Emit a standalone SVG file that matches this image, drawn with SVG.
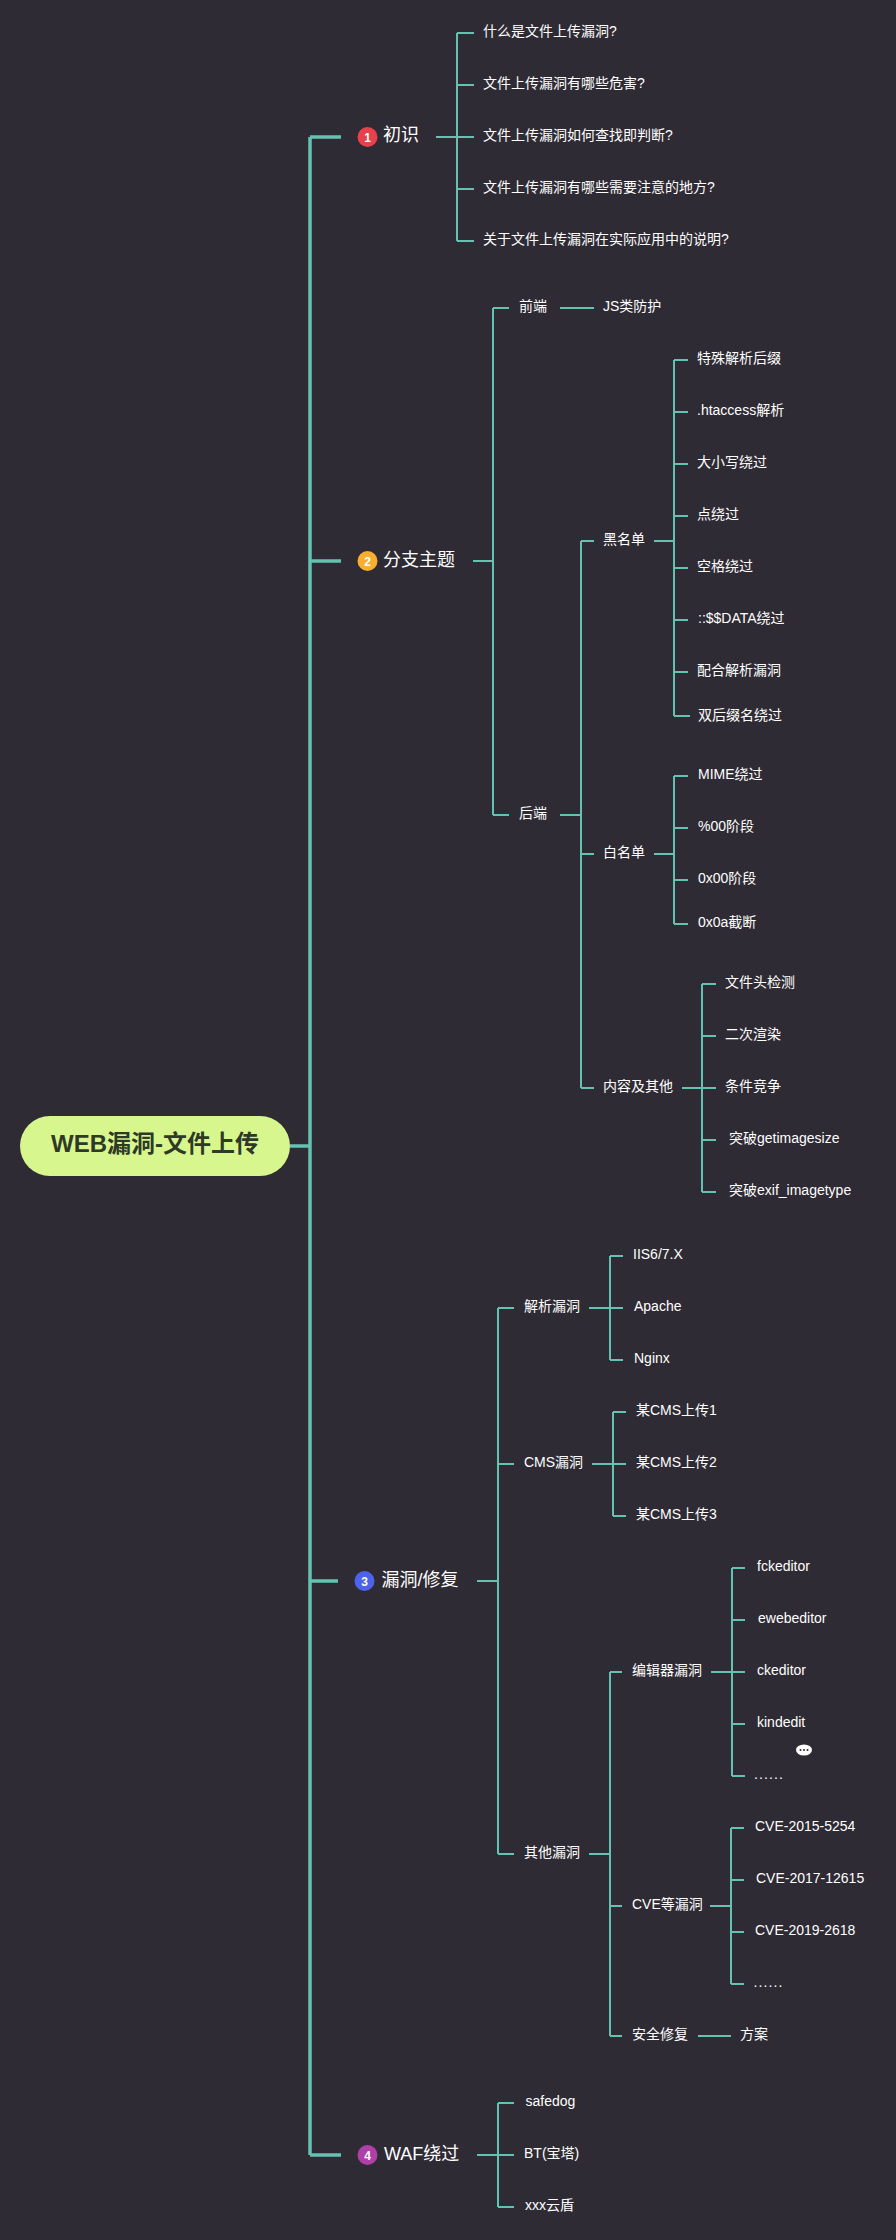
<svg xmlns="http://www.w3.org/2000/svg" width="896" height="2240" viewBox="0 0 896 2240">
<style>
text{font-family:"Liberation Sans","Noto Sans CJK SC",sans-serif;fill:#fff}
.t{font-size:14px}
.m{font-size:18px}
.r{font-size:24px;font-weight:700;fill:#2f3a26}
.b{font-size:12px;font-weight:700;text-anchor:middle}
.d{font-size:14px;letter-spacing:1.1px}
.c{fill:none;stroke:#64c2b1;stroke-width:2}
.k{fill:none;stroke:#64c2b1;stroke-width:3.5}
</style>
<rect width="896" height="2240" fill="#2f2b34"/>
<g id="connectors">
<path class="k" d="M290 1146H310M310 137V2155M341 137H310M341 561H310M338 1581H310M341 2155H310"/>
<path class="c" d="M436 137H474M457 33V241M457 33H474M457 85H474M457 189H474M457 241H474"/>
<path class="c" d="M473 561H493M493 308V815M493 308H509M493 815H509M560 308H594"/>
<path class="c" d="M560 815H581M581 541V1088M581 541H594M581 854H594M581 1088H594"/>
<path class="c" d="M654 541H674M674 360V716M674 360H688M674 412H688M674 464H688M674 516H688M674 568H688M674 620H688M674 672H688M674 716H690"/>
<path class="c" d="M654 854H674M674 776V924M674 776H688M674 828H688M674 880H688M674 924H688"/>
<path class="c" d="M682 1088H716M702 984V1192M702 984H716M702 1036H716M702 1140H716M702 1192H716"/>
<path class="c" d="M477 1581H498M498 1308V1854M498 1308H514M498 1464H514M498 1854H514"/>
<path class="c" d="M589 1308H623M610 1256V1360M610 1256H623M610 1360H623"/>
<path class="c" d="M592 1464H626M613 1412V1516M613 1412H626M613 1516H626"/>
<path class="c" d="M589 1854H610M610 1672V2036M610 1672H622M610 1906H622M610 2036H622"/>
<path class="c" d="M711 1672H745M732 1568V1776M732 1568H745M732 1620H745M732 1724H745M732 1776H745"/>
<path class="c" d="M710 1906H731M731 1828V1984M731 1828H744M731 1880H744M731 1932H744M731 1984H744"/>
<path class="c" d="M698 2036H731"/>
<path class="c" d="M477 2155H514M498 2103V2207M498 2103H514M498 2207H514"/>
</g>
<g id="root"><rect x="20" y="1116" width="270" height="60" rx="30" fill="#d7f78e"/><text class="r" x="51" y="1152">WEB漏洞-文件上传</text></g>
<g id="n1"><circle cx="367.5" cy="137" r="10" fill="#e8414e"/><text class="b" x="367.5" y="141.500">1</text><text class="m" x="383" y="141">初识</text></g>
<g id="n1-1"><text class="t" x="483" y="36">什么是文件上传漏洞?</text></g>
<g id="n1-2"><text class="t" x="483" y="88">文件上传漏洞有哪些危害?</text></g>
<g id="n1-3"><text class="t" x="483" y="140">文件上传漏洞如何查找即判断?</text></g>
<g id="n1-4"><text class="t" x="483" y="192">文件上传漏洞有哪些需要注意的地方?</text></g>
<g id="n1-5"><text class="t" x="483" y="244">关于文件上传漏洞在实际应用中的说明?</text></g>
<g id="n2"><circle cx="367.5" cy="561" r="10" fill="#f8ae2e"/><text class="b" x="367.5" y="565.500">2</text><text class="m" x="383" y="565.500">分支主题</text></g>
<g id="n2-1"><text class="t" x="519" y="311">前端</text></g>
<g id="n2-1-1"><text class="t" x="603" y="311">JS类防护</text></g>
<g id="n2-2"><text class="t" x="519" y="818">后端</text></g>
<g id="n2-2-1"><text class="t" x="603" y="544">黑名单</text></g>
<g id="n2-2-1-1"><text class="t" x="697" y="363">特殊解析后缀</text></g>
<g id="n2-2-1-2"><text class="t" x="697" y="415">.htaccess解析</text></g>
<g id="n2-2-1-3"><text class="t" x="697" y="467">大小写绕过</text></g>
<g id="n2-2-1-4"><text class="t" x="697" y="519">点绕过</text></g>
<g id="n2-2-1-5"><text class="t" x="697" y="571">空格绕过</text></g>
<g id="n2-2-1-6"><text class="t" x="698" y="623">::$$DATA绕过</text></g>
<g id="n2-2-1-7"><text class="t" x="697" y="675">配合解析漏洞</text></g>
<g id="n2-2-1-8"><text class="t" x="698" y="720">双后缀名绕过</text></g>
<g id="n2-2-2"><text class="t" x="603" y="857">白名单</text></g>
<g id="n2-2-2-1"><text class="t" x="698" y="779">MIME绕过</text></g>
<g id="n2-2-2-2"><text class="t" x="698" y="831">%00阶段</text></g>
<g id="n2-2-2-3"><text class="t" x="698" y="883">0x00阶段</text></g>
<g id="n2-2-2-4"><text class="t" x="698" y="927">0x0a截断</text></g>
<g id="n2-2-3"><text class="t" x="603" y="1091">内容及其他</text></g>
<g id="n2-2-3-1"><text class="t" x="725" y="987">文件头检测</text></g>
<g id="n2-2-3-2"><text class="t" x="725" y="1039">二次渲染</text></g>
<g id="n2-2-3-3"><text class="t" x="725" y="1091">条件竞争</text></g>
<g id="n2-2-3-4"><text class="t" x="729" y="1143">突破getimagesize</text></g>
<g id="n2-2-3-5"><text class="t" x="729" y="1195">突破exif_imagetype</text></g>
<g id="n3"><circle cx="364.500" cy="1581" r="10" fill="#4d63ea"/><text class="b" x="364.500" y="1585.500">3</text><text class="m" x="381.500" y="1585.500">漏洞/修复</text></g>
<g id="n3-1"><text class="t" x="524" y="1311">解析漏洞</text></g>
<g id="n3-1-1"><text class="t" x="633" y="1259">IIS6/7.X</text></g>
<g id="n3-1-2"><text class="t" x="634" y="1311">Apache</text></g>
<g id="n3-1-3"><text class="t" x="634" y="1363">Nginx</text></g>
<g id="n3-2"><text class="t" x="524" y="1467">CMS漏洞</text></g>
<g id="n3-2-1"><text class="t" x="636" y="1415">某CMS上传1</text></g>
<g id="n3-2-2"><text class="t" x="636" y="1467">某CMS上传2</text></g>
<g id="n3-2-3"><text class="t" x="636" y="1519">某CMS上传3</text></g>
<g id="n3-3"><text class="t" x="524" y="1857">其他漏洞</text></g>
<g id="n3-3-1"><text class="t" x="632" y="1675">编辑器漏洞</text></g>
<g id="n3-3-1-1"><text class="t" x="757" y="1571">fckeditor</text></g>
<g id="n3-3-1-2"><text class="t" x="758" y="1623">ewebeditor</text></g>
<g id="n3-3-1-3"><text class="t" x="757" y="1675">ckeditor</text></g>
<g id="n3-3-1-4"><text class="t" x="757" y="1727">kindedit</text><g id="note"><ellipse cx="804" cy="1750" rx="8" ry="5.500" fill="#fff"/><circle cx="800.500" cy="1750" r="1" fill="#2f2b34"/><circle cx="804" cy="1750" r="1" fill="#2f2b34"/><circle cx="807.500" cy="1750" r="1" fill="#2f2b34"/></g></g>
<g id="n3-3-1-5"><text class="d" x="754" y="1779">......</text></g>
<g id="n3-3-2"><text class="t" x="632" y="1909">CVE等漏洞</text></g>
<g id="n3-3-2-1"><text class="t" x="755" y="1831">CVE-2015-5254</text></g>
<g id="n3-3-2-2"><text class="t" x="756" y="1883">CVE-2017-12615</text></g>
<g id="n3-3-2-3"><text class="t" x="755" y="1935">CVE-2019-2618</text></g>
<g id="n3-3-2-4"><text class="d" x="753.500" y="1987">......</text></g>
<g id="n3-3-3"><text class="t" x="632" y="2039">安全修复</text></g>
<g id="n3-3-3-1"><text class="t" x="740" y="2039">方案</text></g>
<g id="n4"><circle cx="367.500" cy="2155" r="10" fill="#b13fa8"/><text class="b" x="367.500" y="2159.500">4</text><text class="m" x="384" y="2159.500">WAF绕过</text></g>
<g id="n4-1"><text class="t" x="525.500" y="2106">safedog</text></g>
<g id="n4-2"><text class="t" x="524" y="2158">BT(宝塔)</text></g>
<g id="n4-3"><text class="t" x="525" y="2210">xxx云盾</text></g>
</svg>
